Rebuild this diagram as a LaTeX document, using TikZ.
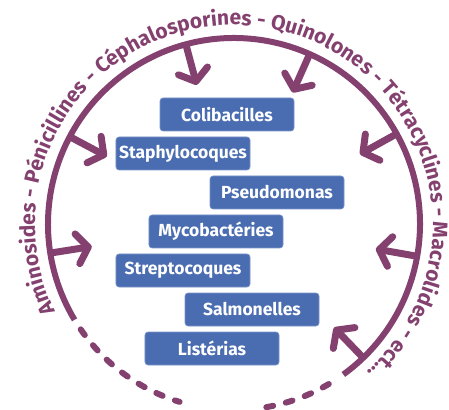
\documentclass[tikz,border=0pt]{standalone}
\usepackage{fontspec}
\setmainfont{Fira Sans}
\usepackage{xcolor}
\usetikzlibrary{arrows.meta, decorations.text}
\definecolor{MainPurple}{HTML}{84416F}
\definecolor{GermBlue}{HTML}{4A6DB1}
\definecolor{GermEdge}{HTML}{7A94C9}
\tikzset{
  >={Straight Barb[length=11pt,width=30pt,round]},
  % Boxes for the germs
  germ box/.style={draw=GermEdge,line width=0.6pt,fill=GermBlue,rounded corners=3pt,
    minimum width=134pt,minimum height=33pt,inner sep=0pt,text=white,
    font=\bfseries\fontsize{17.5}{18}\selectfont},
  % Ring and arrows
  ring/.style={MainPurple,line width=6pt},
  ring dashed/.style={ring,line cap=round,dash pattern=on 7pt off 13pt},
  drug arrow/.style={->,MainPurple,line width=7pt}
}

\begin{document}
\begin{tikzpicture}[x=1pt,y=1pt]
    \useasboundingbox (-234,-185) rectangle (215,224);
    \foreach \a [count=\i] in {105,66,152,29,189,-10,-46}{
      \coordinate (ring\i) at (\a:186);
      \coordinate (tip\i) at (\a:144);
      \draw[drug arrow] (ring\i) -- (tip\i);
    }
    \draw[ring] (-54:186) arc[start angle=-54,end angle=211,radius=186];
    \draw[ring dashed] (214.5:186) arc[start angle=214.5,end angle=253,radius=186];
    \draw[ring dashed] (280:186) arc[start angle=280,end angle=303,radius=186];
    \path[decorate,decoration={text along path,text align=fit to path stretching spaces,
      text={|\bfseries\fontsize{21}{21}\selectfont\color{MainPurple}|Aminosides - Pénicillines - Céphalosporines - Quinolones - Tétracyclines - Macrolides - ect...}}]
      (206:199) arc[start angle=206,end angle=-48,radius=199];
    \foreach \n/\x/\y/\t in {coli/-7/109.5/Colibacilles, staph/-51/70.5/Staphylocoques,
      pseudo/43/31.5/Pseudomonas, myco/-18/-7.5/Mycobactéries, strepto/-51/-46.5/Streptocoques,
      salmo/18/-85.5/Salmonelles, listeria/-22/-124.5/Listérias}
      \node[germ box] (\n) at (\x,\y) {\t};
\end{tikzpicture}
\end{document}
